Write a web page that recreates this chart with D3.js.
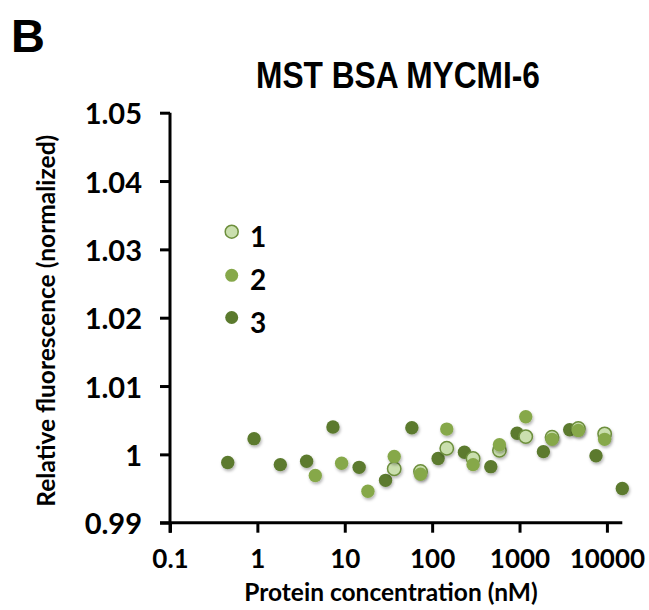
<!DOCTYPE html>
<html>
<head>
<meta charset="utf-8">
<script src="https://cdn.jsdelivr.net/npm/d3@7"></script>
<style>
  html, body { margin: 0; padding: 0; background: #ffffff; }
  svg { display: block; }
</style>
</head>
<body>
<svg id="chart" width="649" height="610"></svg>
<script>
// ---- data ----
const panelLabel = "B";
const chartTitle = "MST BSA MYCMI-6";
const xTitle = "Protein concentration (nM)";
const yTitle = "Relative fluorescence (normalized)";

const xTickValues = [0.1, 1, 10, 100, 1000, 10000];
const xTickLabels = ["0.1", "1", "10", "100", "1000", "10000"];
const yTickValues = [0.99, 1.0, 1.01, 1.02, 1.03, 1.04, 1.05];
const yTickLabels = ["0.99", "1", "1.01", "1.02", "1.03", "1.04", "1.05"];

const seriesNames = ["1", "2", "3"];

const conc1 = [36.8, 73.6, 147, 294, 589, 1178, 2355, 4710, 9420];
const val1  = [0.9979, 0.9975, 1.0009, 0.9994, 1.0006, 1.0026, 1.0025, 1.0038, 1.0030];

const conc2 = [4.6, 9.2, 18.4, 36.8, 73.6, 147, 294, 589, 1178, 2355, 4710, 9420];
const val2  = [0.9969, 0.9987, 0.9946, 0.9997, 0.9971, 1.0037, 0.9985, 1.0014, 1.0055, 1.0022, 1.0035, 1.0022];

const conc3 = [0.458, 0.916, 1.83, 3.66, 7.32, 14.6, 29.3, 58.6, 117, 234, 469, 938, 1875, 3750, 7500, 15000];
const val3  = [0.9988, 1.0023, 0.9985, 0.9990, 1.0040, 0.9981, 0.9962, 1.0039, 0.9994, 1.0003, 0.9982, 1.0031, 1.0004, 1.0036, 0.9998, 0.9950];

// ---- styles ----
const colors = {
  "1": { fill: "#cadfae", stroke: "#6d8f3c" },
  "2": { fill: "#86a84a", stroke: "#86a84a" },
  "3": { fill: "#5b7a2e", stroke: "#5b7a2e" }
};
const tickFont = "Lato, 'Open Sans', sans-serif";

const svg = d3.select("#chart");

const defs = svg.append("defs");
const f = defs.append("filter").attr("id", "shadow")
  .attr("x", "-50%").attr("y", "-50%").attr("width", "200%").attr("height", "200%");
f.append("feDropShadow").attr("dx", 1).attr("dy", 2).attr("stdDeviation", 1.4)
  .attr("flood-color", "#000").attr("flood-opacity", 0.3);

const x = d3.scaleLog().domain([0.1, 15000]).range([170, 622.3]);
const y = d3.scaleLinear().domain([0.99, 1.05]).range([522.7, 112.7]);

// panel label
svg.append("text").attr("x", 11).attr("y", 52)
  .attr("font-family", "'Liberation Sans', Arial, sans-serif")
  .attr("font-weight", "bold").attr("font-size", 47)
  .attr("fill", "#000").text(panelLabel);

// title
svg.append("text").attr("x", 398).attr("y", 88)
  .attr("text-anchor", "middle")
  .attr("font-family", "'Liberation Sans', Arial, sans-serif")
  .attr("font-weight", "bold").attr("font-size", 37)
  .attr("textLength", 284).attr("lengthAdjust", "spacingAndGlyphs")
  .attr("fill", "#000").text(chartTitle);

// x axis
const xAxis = d3.axisBottom(x)
  .tickValues(xTickValues)
  .tickFormat((d, i) => xTickLabels[i])
  .tickSizeInner(10).tickSizeOuter(0).tickPadding(17);
const gx = svg.append("g").attr("transform", `translate(0,${y(0.99)})`).call(xAxis);
gx.select(".domain").attr("d", `M160,0H${x(15000)}`).attr("stroke", "#000").attr("stroke-width", 3);
gx.selectAll(".tick line").attr("stroke", "#000").attr("stroke-width", 3);
gx.selectAll(".tick text")
  .attr("font-family", tickFont).attr("font-weight", "bold").attr("font-size", 26)
  .attr("fill", "#000").attr("dy", "0.71em");

// y axis
const yAxis = d3.axisLeft(y)
  .tickValues(yTickValues)
  .tickFormat((d, i) => yTickLabels[i])
  .tickSizeInner(10).tickSizeOuter(0).tickPadding(18);
const gy = svg.append("g").attr("transform", `translate(${x(0.1)},0)`).call(yAxis);
gy.select(".domain").attr("d", `M0,${y(1.05)}V${y(0.99) + 10}`).attr("stroke", "#000").attr("stroke-width", 3);
gy.selectAll(".tick line").attr("stroke", "#000").attr("stroke-width", 3);
gy.selectAll(".tick text")
  .attr("font-family", tickFont).attr("font-weight", "bold").attr("font-size", 29)
  .attr("fill", "#000").attr("dy", "0.38em");

// axis titles
svg.append("text")
  .attr("transform", `translate(55,${(y(0.99) + y(1.05)) / 2 + 3}) rotate(-90)`)
  .attr("text-anchor", "middle")
  .attr("font-family", tickFont).attr("font-weight", "bold").attr("font-size", 24.5)
  .attr("fill", "#000").text(yTitle);

svg.append("text")
  .attr("x", 391).attr("y", 601)
  .attr("text-anchor", "middle")
  .attr("font-family", tickFont).attr("font-weight", "bold").attr("font-size", 24.5)
  .attr("fill", "#000").text(xTitle);

// points: drawn in order 3, 1, 2
const series = [
  { name: "3", c: conc3, v: val3 },
  { name: "1", c: conc1, v: val1 },
  { name: "2", c: conc2, v: val2 }
];
series.forEach(s => {
  const pts = s.c.map((c, i) => ({ c, v: s.v[i] }));
  svg.append("g").attr("filter", "url(#shadow)")
    .selectAll("circle").data(pts).join("circle")
    .attr("cx", d => x(d.c)).attr("cy", d => y(d.v)).attr("r", 6.7)
    .attr("fill", colors[s.name].fill)
    .attr("stroke", colors[s.name].stroke)
    .attr("stroke-width", s.name === "1" ? 1.5 : 0);
});

// legend
const legendY = [231.7, 275.3, 317.5];
const lg = svg.append("g");
seriesNames.forEach((n, i) => {
  lg.append("circle").attr("cx", 231.7).attr("cy", legendY[i]).attr("r", 6.5)
    .attr("fill", colors[n].fill).attr("stroke", colors[n].stroke)
    .attr("stroke-width", n === "1" ? 1.5 : 0);
  lg.append("text").attr("x", 250).attr("y", legendY[i] + 15)
    .attr("font-family", tickFont).attr("font-weight", "bold").attr("font-size", 28)
    .attr("fill", "#000").text(n);
});
</script>
</body>
</html>
